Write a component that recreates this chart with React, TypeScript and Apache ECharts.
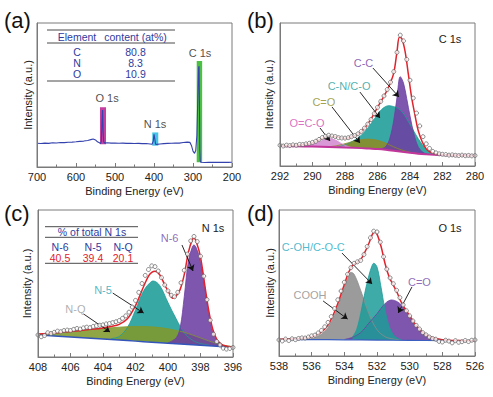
import React, { useEffect, useRef } from "react";
import * as echarts from "echarts";

const FONT = "'Liberation Sans', Arial, Helvetica, sans-serif";

// ---------- colours ----------
const PURPLE = "#6c3fa2";
const TEAL = "#1c9c99";
const OLIVE_B = "#8c8c26";
const OLIVE_C = "#7f982c";
const PINK = "#d48ad0";
const GRAY = "#8d8d8d";
const MAGENTA = "#c2359a";
const BLUE = "#3442ad";
const RED = "#e3222b";
const TABLE_BLUE = "#2e3b9e";

// ---------- axes ----------
const xMins = [200, 280, 396, 526];
const xMaxs = [700, 292, 408, 538];
const xSteps = [100, 2, 2, 2];

// ---------- (a) survey ----------
const surveyLine: number[][] = [
  [700, 16.5], [690, 16.3], [680, 16.6], [670, 16.4], [660, 16.8], [650, 16.7], [640, 17.0], [630, 16.9],
  [620, 17.2], [610, 17.3], [600, 17.5], [590, 17.8], [580, 18.0], [570, 18.4], [562, 19.0], [556, 19.4],
  [550, 18.8], [545, 17.5], [540, 16.8], [537, 16.2], [535, 18], [533.5, 30], [532, 39.6], [530.5, 25],
  [529, 17.5], [526, 16.6], [520, 16.8], [510, 16.6], [500, 16.7], [490, 16.5], [480, 16.6], [470, 16.4],
  [460, 16.5], [450, 16.3], [440, 16.4], [430, 16.2], [420, 16.3], [410, 16.0], [405, 15.8], [402, 18],
  [400, 22.7], [398, 19.5], [396, 15.8], [393, 15.7], [385, 16.0], [375, 16.2], [365, 16.4], [355, 16.5],
  [345, 16.7], [335, 16.6], [325, 17.0], [315, 17.3], [308, 17.1], [304, 15], [300, 11], [296, 9.5],
  [293, 11.5], [290, 22], [287.5, 50], [285.5, 69], [284.5, 70], [283.5, 45], [282.5, 12], [281.5, 4.5],
  [280, 3.3], [270, 3.1], [260, 3.3], [250, 3.2], [240, 3.3], [230, 3.2], [220, 3.3], [210, 3.2], [200, 3.3],
];
const surveyPeakNames = ["O 1s", "N 1s", "C 1s"];
const surveyBoxes: number[][] = [
  [538.5, 523, 15.8, 41.5],
  [404.5, 389, 14.8, 24],
  [290.5, 276.5, 3.3, 73.6],
];
const surveyBoxColors = ["#c43fa0", "#45c3e6", "#4cc043"];
const surveyLabelPos: number[][] = [[520.5, 48], [397.4, 29.6], [282, 79]];
const tableAHeader = ["Element", "content (at%)"];
const tableAElements = ["C", "N", "O"];
const tableAContent = ["80.8", "8.3", "10.9"];

// ---------- (b) C 1s ----------
const bBase: number[][] = [
  [292, 14.0], [291, 13.8], [290, 13.6], [289, 13.3], [288, 12.9], [287, 12.5], [286.5, 12.2], [286, 11.9],
  [285.5, 11.4], [285, 10.7], [284.5, 9.9], [284, 9.2], [283.5, 8.6], [283, 8.2], [282.5, 7.9], [282, 7.7],
  [281, 7.5], [280, 7.3],
];
const bCN: number[][] = [
  [288.5, 13.1], [288, 14.8], [287.5, 17.5], [287, 21.5], [286.5, 28], [286, 36], [285.75, 39.5], [285.5, 41.6],
  [285.3, 42.2], [285, 41.5], [284.75, 40.5], [284.5, 38], [284.25, 34], [284, 29], [283.75, 24], [283.5, 19.3],
  [283.25, 15], [283, 11.5], [282.75, 9.6], [282.5, 8.6], [282, 7.8],
];
const bCO: number[][] = [
  [289, 13.4], [288.5, 14.2], [288, 15.6], [287.5, 17.2], [287, 18.4], [286.6, 18.8], [286, 18.0], [285.5, 16.0],
  [285, 13.4], [284.5, 11.2], [284, 9.7], [283.5, 8.7],
];
const bCC: number[][] = [
  [286.5, 12.2], [286, 12.0], [285.75, 12.2], [285.5, 13.5], [285.25, 19], [285, 32], [284.8, 48], [284.6, 62.5],
  [284.4, 58], [284.2, 47], [284, 35], [283.75, 22], [283.5, 13.5], [283.25, 10], [283, 8.5], [282.5, 7.9],
];
const bOCO: number[][] = [
  [291, 13.8], [290.5, 14.2], [290, 15.2], [289.5, 17.3], [289, 19.2], [288.6, 18.2], [288.2, 15.5], [287.8, 13.6],
  [287.5, 12.8], [287, 12.5],
];
const bFit: number[][] = [
  [292, 14.2], [291.5, 14.3], [291, 14.6], [290.5, 15.1], [290, 16.2], [289.5, 18.8], [289, 21], [288.5, 20.3],
  [288, 19.3], [287.5, 20.6], [287, 24], [286.5, 31], [286, 41], [285.75, 46], [285.5, 51], [285.25, 57],
  [285, 65], [284.8, 80], [284.65, 90], [284.5, 89], [284.3, 80], [284.1, 64], [283.9, 48], [283.7, 36],
  [283.5, 25], [283.25, 17], [283, 12], [282.75, 9.8], [282.5, 8.8], [282, 8], [281.5, 7.6], [281, 7.4], [280, 7.2],
];
const bData: number[][] = [
  [292, 14.5], [291.8, 14.0], [291.6, 14.6], [291.4, 14.3], [291.2, 14.8], [291.0, 14.5], [290.8, 15.1], [290.6, 15.0],
  [290.4, 15.5], [290.2, 15.9], [290.0, 16.5], [289.8, 17.3], [289.6, 18.6], [289.4, 19.9], [289.2, 20.8], [289.0, 21.5],
  [288.8, 21.0], [288.6, 20.6], [288.4, 19.8], [288.2, 19.6], [288.0, 19.5], [287.8, 19.8], [287.6, 20.5], [287.4, 21.3],
  [287.2, 22.5], [287.0, 24.2], [286.8, 26.5], [286.6, 29.3], [286.4, 32.5], [286.2, 36.6], [286.0, 41.0], [285.8, 45.2],
  [285.6, 49.0], [285.4, 53.5], [285.2, 58.6], [285.0, 66.0], [284.8, 79.5], [284.6, 91.5], [284.4, 87.5], [284.2, 74.5],
  [284.0, 60.0], [283.8, 47.5], [283.6, 37.0], [283.4, 28.0], [283.2, 20.5], [283.0, 15.5], [282.8, 12.3], [282.6, 10.2],
  [282.4, 9.2], [282.2, 8.5], [282.0, 8.2], [281.8, 8.0], [281.6, 7.6], [281.4, 7.8], [281.2, 7.5], [281.0, 7.3],
  [280.8, 7.6], [280.6, 7.2], [280.4, 7.4], [280.2, 7.1], [280.0, 7.3],
];
const bLabels = ["C-C", "C-N/C-O", "C=O", "O=C-O"];
const bLabelColors = [PURPLE, TEAL, "#8a8a1e", "#d04cb4"];
const bLabelPos: number[][] = [[286.86, 71.8], [287.75, 55.9], [289.3, 44.8], [290.34, 30.3]];
const bArrows: number[][][] = [
  [[286.28, 68.5], [284.68, 48.3]],
  [[287.08, 51.7], [285.85, 33.6]],
  [[288.8, 41.3], [287.08, 16.1]],
  [[289.54, 26.6], [288.92, 17.5]],
];

// ---------- (c) N 1s ----------
const cBase: number[][] = [
  [408, 15.0], [407, 14.3], [406, 13.6], [405, 12.9], [404, 12.2], [403, 11.5], [402, 10.8], [401, 10.1],
  [400, 9.4], [399, 8.7], [398, 8.0], [397, 7.3], [396, 6.6],
];
const cN5: number[][] = [
  [403.5, 12.5], [403, 14], [402.5, 20], [402, 32], [401.5, 45], [401, 51.5], [400.9, 51.7], [400.5, 48.5],
  [400, 37], [399.5, 26], [399, 16.5], [398.5, 11.5], [398, 9.2], [397.5, 8.2],
];
const cNQ: number[][] = [
  [408, 15.5], [407, 16.2], [406, 17.2], [405, 18.3], [404, 19.4], [403, 20.3], [402, 20.8], [401, 20.5],
  [400, 19.2], [399, 16.8], [398.5, 15], [398, 13], [397.5, 11], [397, 9.2], [396.5, 7.9], [396, 7.0],
];
const cN6: number[][] = [
  [400, 9.6], [399.5, 13], [399.25, 20], [399, 41], [398.75, 65], [398.5, 75], [398.4, 76.2], [398.25, 74],
  [398, 65], [397.75, 48], [397.5, 30], [397.25, 17], [397, 11], [396.75, 8.5], [396.5, 7.3], [396, 6.7],
];
const cFit: number[][] = [
  [408, 15.6], [407, 16.3], [406, 17.3], [405, 18.5], [404, 19.8], [403.5, 20.8], [403, 22.2], [402.5, 26],
  [402, 35], [401.5, 48], [401.2, 55], [401, 57.5], [400.8, 58.3], [400.5, 55.8], [400.2, 49], [400, 45],
  [399.7, 40], [399.5, 41.5], [399.25, 46], [399, 56], [398.75, 71], [398.5, 80], [398.4, 80.7], [398.25, 78],
  [398, 68], [397.75, 50], [397.5, 32], [397.25, 19], [397, 12], [396.75, 9], [396.5, 7.6], [396, 6.8],
];
const cData: number[][] = [
  [408.0, 15.0], [407.8, 13.8], [407.6, 14.6], [407.4, 16.5], [407.2, 16.0], [407.0, 16.8], [406.8, 17.6], [406.6, 17.2],
  [406.4, 18.0], [406.2, 18.3], [406.0, 18.0], [405.8, 18.8], [405.6, 19.4], [405.4, 19.0], [405.2, 19.8], [405.0, 20.3],
  [404.8, 20.0], [404.6, 20.8], [404.4, 21.3], [404.2, 21.6], [404.0, 21.9], [403.8, 22.5], [403.6, 22.8], [403.4, 23.4],
  [403.2, 24.0], [403.0, 24.8], [402.8, 26.3], [402.6, 28.0], [402.4, 30.5], [402.2, 34.0], [402.0, 38.5], [401.8, 44.0],
  [401.6, 50.0], [401.4, 55.5], [401.2, 59.5], [401.0, 62.0], [400.8, 61.5], [400.6, 58.5], [400.4, 54.0], [400.2, 49.0],
  [400.0, 45.0], [399.8, 42.0], [399.6, 41.0], [399.4, 44.0], [399.2, 50.5], [399.0, 59.0], [398.8, 70.0], [398.6, 79.0],
  [398.4, 82.0], [398.2, 78.5], [398.0, 68.5], [397.8, 55.0], [397.6, 39.0], [397.4, 25.0], [397.2, 15.5], [397.0, 10.5],
  [396.8, 8.2], [396.6, 6.0], [396.4, 5.4], [396.2, 5.8], [396.0, 6.5],
];
const cLabels = ["N-6", "N-5", "N-Q"];
const cLabelColors = ["#7048ac", "#22a6b8", "#9a9a9a"];
const cLabelPos: number[][] = [[399.9, 81], [404, 45.6], [405.7, 32.7]];
const cArrows: number[][][] = [
  [[399.14, 76.2], [398.46, 58.5]],
  [[403.4, 43.5], [401.5, 29.9]],
  [[405.2, 29.3], [403.57, 17]],
];
const tableCHeader = "% of total N 1s";
const tableCTypes = ["N-6", "N-5", "N-Q"];
const tableCValues = ["40.5", "39.4", "20.1"];

// ---------- (d) O 1s ----------
const dBase: number[][] = [[538, 11.3], [536, 11.2], [534, 11.1], [532, 10.9], [530, 10.7], [528, 10.5], [526, 10.3]];
const dCOOH: number[][] = [
  [536.5, 11.4], [536, 12], [535.5, 14.2], [535, 19.5], [534.5, 31], [534, 47], [533.8, 53], [533.6, 57.3],
  [533.4, 56], [533, 45], [532.5, 29], [532, 18], [531.5, 13.2], [531, 11.6], [530.5, 11],
];
const dCO: number[][] = [
  [534, 11.3], [533.5, 12.8], [533, 16], [532.5, 22.5], [532, 29], [531.5, 36], [531.1, 38.4], [530.5, 35],
  [530, 27.5], [529.5, 19.5], [529, 14.5], [528.5, 12.2], [528, 11.2], [527.5, 10.6],
];
const dCOH: number[][] = [
  [533.5, 13], [533.25, 18], [533, 29], [532.75, 43], [532.5, 55], [532.3, 62], [532.2, 63.5], [532, 61],
  [531.75, 47], [531.5, 31], [531.25, 20], [531, 14.5], [530.75, 12.2], [530.5, 11.2],
];
const dFit: number[][] = [
  [538, 11.5], [537, 11.8], [536.5, 12.2], [536, 13.2], [535.5, 15.6], [535, 21.2], [534.5, 33], [534, 49],
  [533.75, 57], [533.5, 62], [533.25, 64], [533, 66], [532.75, 71], [532.5, 77], [532.3, 83], [532.15, 85],
  [532, 83.5], [531.75, 75], [531.5, 63], [531.25, 54], [531, 48.5], [530.75, 43], [530.5, 36.5], [530, 27.5],
  [529.5, 19.5], [529, 14.5], [528.5, 12.2], [528, 11.2], [527, 10.6], [526, 10.4],
];
const dData: number[][] = [
  [538.0, 11.0], [537.8, 10.3], [537.6, 11.6], [537.4, 10.6], [537.2, 11.8], [537.0, 11.2], [536.8, 12.0], [536.6, 12.4],
  [536.4, 12.3], [536.2, 13.0], [536.0, 13.8], [535.8, 14.3], [535.6, 15.8], [535.4, 17.5], [535.2, 20.0], [535.0, 23.0],
  [534.8, 27.0], [534.6, 32.5], [534.4, 38.5], [534.2, 44.5], [534.0, 50.5], [533.8, 56.0], [533.6, 60.5], [533.4, 63.5],
  [533.2, 64.5], [533.0, 65.5], [532.8, 69.5], [532.6, 75.0], [532.4, 81.0], [532.2, 85.5], [532.0, 85.0], [531.8, 78.0],
  [531.6, 68.0], [531.4, 59.5], [531.2, 53.5], [531.0, 49.5], [530.8, 45.0], [530.6, 40.0], [530.4, 35.0], [530.2, 31.0],
  [530.0, 27.5], [529.8, 24.0], [529.6, 21.0], [529.4, 18.5], [529.2, 16.0], [529.0, 14.5], [528.8, 13.0], [528.6, 12.0],
  [528.4, 11.5], [528.2, 10.0], [528.0, 9.6], [527.8, 10.8], [527.6, 10.2], [527.4, 9.0], [527.2, 10.5], [527.0, 9.4],
  [526.8, 9.8], [526.6, 10.6], [526.4, 9.9], [526.2, 10.8], [526.0, 11.0],
];
const dLabels = ["C-OH/C-O-C", "COOH", "C=O"];
const dLabelColors = ["#22a8c2", "#8a8a8a", "#7048ac"];
const dLabelPos: number[][] = [[535.9, 74.7], [536.1, 41.8], [529.4, 50.7]];
const dArrows: number[][][] = [
  [[534.14, 70.5], [532.3, 49.3]],
  [[535.3, 37.7], [533.8, 25.3]],
  [[529.86, 47.3], [530.7, 29.5]],
];

const panelLetters = ["(a)", "(b)", "(c)", "(d)"];
const coreTitles = ["C 1s", "N 1s", "O 1s"];

function comp(data: number[][], color: string, xi: number, opacity = 0.88): any {
  return {
    type: "line", xAxisIndex: xi, yAxisIndex: xi, data, smooth: 0.35, symbol: "none", z: 2, silent: true,
    lineStyle: { color, width: 0.8 }, areaStyle: { color, opacity },
  };
}
function baseline(data: number[][], color: string, width: number, xi: number): any {
  return {
    type: "line", xAxisIndex: xi, yAxisIndex: xi, data, smooth: 0.3, symbol: "none", z: 3, silent: true,
    lineStyle: { color, width }, areaStyle: { color: "#ffffff", opacity: 1 },
  };
}
function fit(data: number[][], xi: number): any {
  return {
    type: "line", xAxisIndex: xi, yAxisIndex: xi, data, smooth: 0.35, symbol: "none", z: 4, silent: true,
    lineStyle: { color: RED, width: 1.5 },
  };
}
function points(data: number[][], xi: number): any {
  return {
    type: "scatter", xAxisIndex: xi, yAxisIndex: xi, data, symbol: "circle", symbolSize: 4, z: 5, silent: true,
    itemStyle: { color: "#ffffff", borderColor: "#555555", borderWidth: 0.85 },
  };
}
function labels(names: string[], pos: number[][], colors: string[], arrows: number[][][], xi: number): any {
  return {
    type: "scatter", xAxisIndex: xi, yAxisIndex: xi, symbolSize: 1, z: 8, silent: true,
    itemStyle: { color: "rgba(0,0,0,0)" },
    data: names.map((n, i) => ({ name: n, value: pos[i], label: { color: colors[i] } })),
    label: { show: true, formatter: "{b}", position: "inside", fontSize: 11, fontFamily: FONT },
    markLine: {
      silent: true, animation: false, symbol: ["none", "arrow"], symbolSize: 6,
      lineStyle: { color: "#111111", width: 0.9, type: "solid" },
      label: { show: false },
      data: arrows.map((a) => [{ coord: a[0] }, { coord: a[1] }]),
    },
  };
}

function text(x: number, y: number, t: string, fill: string, size: number, align = "center"): any {
  return {
    type: "text", x, y, z: 20, silent: true,
    style: {
      text: t, fill, font: `${size}px ${FONT}`, fontSize: size, fontFamily: FONT,
      textAlign: align, align, textVerticalAlign: "middle", verticalAlign: "middle",
    },
  };
}
function hline(x1: number, x2: number, y: number): any {
  return { type: "line", z: 20, silent: true, shape: { x1, y1: y, x2, y2: y }, style: { stroke: "#4a4a4a", lineWidth: 1 } };
}

export default function App() {
  const ref = useRef<HTMLDivElement>(null);
  useEffect(() => {
    if (!ref.current) return;
    const chart = echarts.init(ref.current, undefined, { renderer: "svg" });
    const grids = [
      { left: 37, top: 23, width: 195, height: 144 },
      { left: 280, top: 23, width: 195, height: 143 },
      { left: 38, top: 210, width: 195, height: 147 },
      { left: 279, top: 210, width: 196, height: 146 },
    ].map((g) => ({ ...g, show: true, borderColor: "#7a7a7a", borderWidth: 1, z: 10, backgroundColor: "transparent" }));
    const yGaps = [4, 6, 6, 4];
    const xAxis = xMins.map((mn, i) => ({
      type: "value", gridIndex: i, min: mn, max: xMaxs[i], interval: xSteps[i], inverse: true, z: 12,
      name: "Binding Energy (eV)", nameLocation: "middle", nameGap: 18,
      nameTextStyle: { fontSize: 11, color: "#222", fontFamily: FONT },
      axisLine: { lineStyle: { color: "#7a7a7a", width: 1 } },
      axisTick: { inside: true, length: 4, lineStyle: { color: "#7a7a7a" } },
      minorTick: { show: true, splitNumber: 2, length: 2.5, lineStyle: { color: "#7a7a7a" } },
      axisLabel: { fontSize: 11, color: "#222", margin: 4, fontFamily: FONT },
      splitLine: { show: false },
    }));
    const yAxis = xMins.map((_, i) => ({
      type: "value", gridIndex: i, min: 0, max: 100, z: 12,
      name: "Intensity (a.u.)", nameLocation: "middle", nameGap: yGaps[i],
      nameTextStyle: { fontSize: 11, color: "#222", fontFamily: FONT },
      axisLine: { show: true, lineStyle: { color: "#7a7a7a", width: 1 } },
      axisTick: { show: false }, axisLabel: { show: false }, splitLine: { show: false },
    }));

    const series: any[] = [
      // (a)
      {
        type: "line", xAxisIndex: 0, yAxisIndex: 0, data: [], z: 1, silent: true,
        markArea: {
          silent: true, animation: false,
          data: surveyBoxes.map((b, i) => [
            { coord: [b[0], b[3]], itemStyle: { color: surveyBoxColors[i], opacity: 1 } },
            { coord: [b[1], b[2]] },
          ]),
        },
      },
      {
        type: "line", xAxisIndex: 0, yAxisIndex: 0, data: surveyLine, symbol: "none", z: 3, silent: true,
        lineStyle: { color: BLUE, width: 1.1 },
      },
      labels(surveyPeakNames, surveyLabelPos, ["#222", "#222", "#222"], [], 0),
      // (b)
      comp(bCN, TEAL, 1),
      comp(bCO, OLIVE_B, 1),
      comp(bCC, PURPLE, 1),
      comp(bOCO, PINK, 1),
      baseline(bBase, MAGENTA, 2, 1),
      fit(bFit, 1),
      points(bData, 1),
      labels(bLabels, bLabelPos, bLabelColors, bArrows, 1),
      // (c)
      comp(cN5, TEAL, 2),
      comp(cNQ, OLIVE_C, 2),
      comp(cN6, PURPLE, 2),
      baseline(cBase, "#3355bb", 1.5, 2),
      fit(cFit, 2),
      points(cData, 2),
      labels(cLabels, cLabelPos, cLabelColors, cArrows, 2),
      // (d)
      comp(dCOOH, GRAY, 3),
      comp(dCO, PURPLE, 3),
      comp(dCOH, TEAL, 3, 0.85),
      baseline(dBase, "#3a5fc0", 1.2, 3),
      fit(dFit, 3),
      points(dData, 3),
      labels(dLabels, dLabelPos, dLabelColors, dArrows, 3),
    ];

    const graphic: any[] = [
      text(4, 20, panelLetters[0], "#111", 22, "left"),
      text(247, 20, panelLetters[1], "#111", 22, "left"),
      text(4, 213, panelLetters[2], "#111", 22, "left"),
      text(247, 213, panelLetters[3], "#111", 22, "left"),
      text(450, 39, coreTitles[0], "#222", 11),
      text(213, 228, coreTitles[1], "#222", 11),
      text(450, 228, coreTitles[2], "#222", 11),
      // table (a)
      hline(47, 175, 30), hline(47, 175, 43), hline(47, 175, 81),
      text(77, 36.5, tableAHeader[0], TABLE_BLUE, 10.5),
      text(135.5, 36.5, tableAHeader[1], TABLE_BLUE, 10.5),
      ...tableAElements.map((e, i) => text(77, 51.5 + i * 11, e, TABLE_BLUE, 10.5)),
      ...tableAContent.map((e, i) => text(135.5, 51.5 + i * 11, e, TABLE_BLUE, 10.5)),
      // table (c)
      hline(45, 138, 226.7), hline(45, 138, 237.3), hline(45, 138, 263.3),
      text(92, 231.7, tableCHeader, TABLE_BLUE, 10.5),
      ...tableCTypes.map((e, i) => text([60, 93, 123][i], 246.7, e, TABLE_BLUE, 10.5)),
      ...tableCValues.map((e, i) => text([60, 93, 123][i], 257.7, e, RED, 10.5)),
    ];

    chart.setOption({
      animation: false,
      backgroundColor: "#ffffff",
      textStyle: { fontFamily: FONT },
      grid: grids,
      xAxis,
      yAxis,
      series,
      graphic,
    });
    return () => chart.dispose();
  }, []);
  return <div ref={ref} style={{ position: "absolute", left: 0, top: 0, width: 493, height: 397 }} />;
}
